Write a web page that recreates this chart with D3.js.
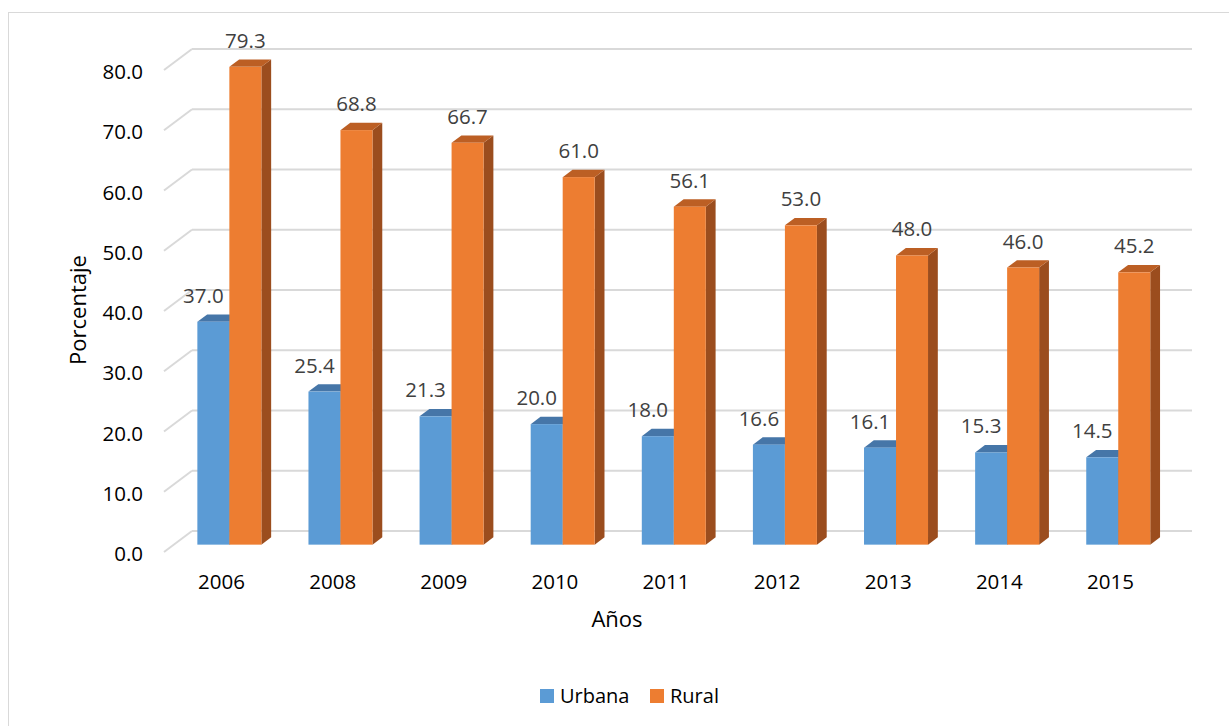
<!DOCTYPE html>
<html>
<head>
<meta charset="utf-8">
<script src="https://cdn.jsdelivr.net/npm/d3@7"></script>
<style>
body{margin:0;background:#fff;}
text{font-family:"Open Sans",sans-serif;}
</style>
</head>
<body>
<div id="chart"></div>
<script>
var years=["2006","2008","2009","2010","2011","2012","2013","2014","2015"];
var urbana=[37.0,25.4,21.3,20.0,18.0,16.6,16.1,15.3,14.5];
var rural=[79.3,68.8,66.7,61.0,56.1,53.0,48.0,46.0,45.2];
var yTicks=[0,10,20,30,40,50,60,70,80];
var seriesNames=["Urbana","Rural"];

var width=1229,height=726;
var svg=d3.select("#chart").append("svg")
	.attr("width",width).attr("height",height);

// chart frame
svg.append("rect").attr("x",8.5).attr("y",12.5)
	.attr("width",1260).attr("height",760)
	.attr("fill","none").attr("stroke","#d9d9d9");

var depth={dx:28,dy:-21};	//floor depth (front -> back wall)
var barZ0=0.35,barZ1=0.70;	//bar depth as fraction of floor

var y=d3.scaleLinear().domain([0,80]).range([552,70]);
var x0=d3.scaleBand().domain(years).range([164,1164]).paddingInner(0.424).paddingOuter(0.212);
var x1=d3.scaleBand().domain(seriesNames).range([0,x0.bandwidth()]);

function px(x,z){return x+depth.dx*z;}
function py(yy,z){return yy+depth.dy*z;}

var colors={
	Urbana:{front:"#5b9bd5",top:"#4676a8",side:"#3d6896"},
	Rural:{front:"#ed7d31",top:"#bc5f24",side:"#9b4d1e"}
};

//==============gridlines================
var grid=svg.append("g").attr("class","grid");
yTicks.forEach(function(t){
	grid.append("line")
		.attr("x1",px(164,0)).attr("y1",py(y(t),0))
		.attr("x2",px(164,1)).attr("y2",py(y(t),1))
		.attr("stroke","#d9d9d9").attr("stroke-width",2);
	grid.append("line")
		.attr("x1",px(164,1)).attr("y1",py(y(t),1))
		.attr("x2",px(1164,1)).attr("y2",py(y(t),1))
		.attr("stroke","#d9d9d9").attr("stroke-width",2);
});

//==============tick labels================
svg.append("g").selectAll("text").data(yTicks)
	.enter().append("text")
	.attr("x",143).attr("y",function(d){return y(d)+9;})
	.attr("text-anchor","end").attr("font-size",20.5).attr("fill","#000")
	.text(function(d){return d.toFixed(1);});

svg.append("g").selectAll("text").data(years)
	.enter().append("text")
	.attr("x",function(d){return x0(d)+x0.bandwidth()/2+2;})
	.attr("y",589)
	.attr("text-anchor","middle").attr("font-size",20.5).attr("fill","#000")
	.text(function(d){return d;});

//==============3d bars================
var bars=[];
years.forEach(function(yr,i){
	bars.push({year:yr,series:"Urbana",value:urbana[i]});
	bars.push({year:yr,series:"Rural",value:rural[i]});
});

var barG=svg.append("g").attr("class","bars");
bars.forEach(function(d){
	var xl=x0(d.year)+x1(d.series),xr=xl+x1.bandwidth();
	var yb=y(0),yt=y(d.value);
	var c=colors[d.series];
	function pt(xx,yy,z){return px(xx,z)+","+py(yy,z);}
	// side
	barG.append("polygon")
		.attr("points",[pt(xr,yt,barZ0),pt(xr,yt,barZ1),pt(xr,yb,barZ1),pt(xr,yb,barZ0)].join(" "))
		.attr("fill",c.side);
	// top
	barG.append("polygon")
		.attr("points",[pt(xl,yt,barZ0),pt(xl,yt,barZ1),pt(xr,yt,barZ1),pt(xr,yt,barZ0)].join(" "))
		.attr("fill",c.top);
	// front
	barG.append("rect")
		.attr("x",px(xl,barZ0)).attr("y",py(yt,barZ0))
		.attr("width",xr-xl).attr("height",yb-yt)
		.attr("fill",c.front);
});

//==============value labels================
svg.append("g").selectAll("text").data(bars)
	.enter().append("text")
	.attr("x",function(d){
		var cx=px(x0(d.year)+x1(d.series)+x1.bandwidth()/2,barZ0);
		return d.series=="Urbana"?cx-10:cx;
	})
	.attr("y",function(d){return py(y(d.value),barZ0)-26+7;})
	.attr("text-anchor","middle").attr("font-size",20.5).attr("fill","#404040")
	.text(function(d){return d.value.toFixed(1);});

//==============axis titles================
svg.append("text")
	.attr("transform","translate(86,310) rotate(-90)")
	.attr("text-anchor","middle").attr("font-size",22).attr("fill","#000")
	.text("Porcentaje");
svg.append("text")
	.attr("x",617).attr("y",627)
	.attr("text-anchor","middle").attr("font-size",22).attr("fill","#000")
	.text("Años");

//==============legend================
var legend=svg.append("g").attr("class","legend");
var legX=[540,650];
seriesNames.forEach(function(s,i){
	legend.append("rect").attr("x",legX[i]).attr("y",689)
		.attr("width",14).attr("height",14).attr("fill",colors[s].front);
	legend.append("text").attr("x",legX[i]+20).attr("y",703)
		.attr("font-size",20).attr("fill","#000").text(s);
});
</script>
</body>
</html>
